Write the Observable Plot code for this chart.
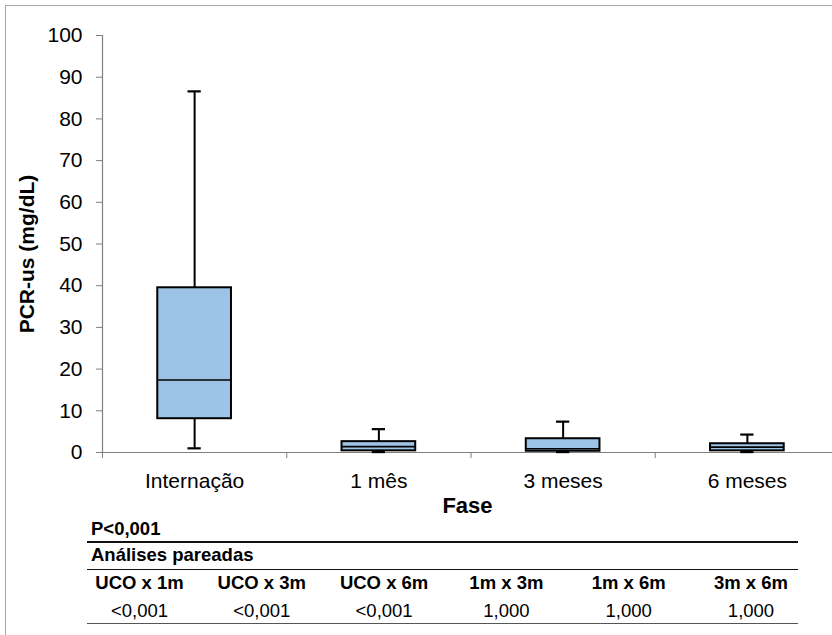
<!DOCTYPE html>
<html>
<head>
<meta charset="utf-8">
<script src="https://cdn.jsdelivr.net/npm/d3@7"></script>
<script src="https://cdn.jsdelivr.net/npm/@observablehq/plot@0.6"></script>
<style>
  html, body { margin: 0; padding: 0; background: #fff; overflow: hidden; }
  #wrap { position: relative; width: 832px; height: 635px; font-family: "Liberation Sans", Arial, sans-serif; color: #000; }
  #border { position: absolute; left: 5px; top: 5px; width: 900px; height: 700px; border: 1px solid #a6a6a6; box-sizing: border-box; }
  #chart { position: absolute; left: 0; top: 0; }
  .t { position: absolute; white-space: nowrap; line-height: 1; font-size: 18.5px; }
  .b { font-weight: bold; }
  .c { transform: translateX(-50%); }
  .hl { position: absolute; left: 87px; width: 711px; height: 1.5px; background: #111; }
</style>
</head>
<body>
<div id="wrap">
  <div id="border"></div>
  <div id="chart"></div>
  <div id="table"></div>
</div>
<script>
// ---- data ----
const categories = ["Internação", "1 mês", "3 meses", "6 meses"];
const mins    = [1.0, 0.1, 0.1, 0.1];
const q1s     = [8.1, 0.4, 0.3, 0.4];
const medians = [17.4, 1.4, 0.9, 1.3];
const q3s     = [39.5, 2.6, 3.3, 2.1];
const maxs    = [86.6, 5.6, 7.4, 4.3];
const yTicks  = [0, 10, 20, 30, 40, 50, 60, 70, 80, 90, 100];
const yTitle  = "PCR-us (mg/dL)";
const xTitle  = "Fase";
const globalP = "P<0,001";
const pairedTitle = "Análises pareadas";
const comparisons = ["UCO x 1m", "UCO x 3m", "UCO x 6m", "1m x 3m", "1m x 6m", "3m x 6m"];
const pValues = ["<0,001", "<0,001", "<0,001", "1,000", "1,000", "1,000"];

const data = categories.map((c, i) => ({
  i, c, min: mins[i], q1: q1s[i], median: medians[i], q3: q3s[i], max: maxs[i]
}));
const boundaries = categories.map((c, i) => i - 0.5).concat([categories.length - 0.5]);
const boxHalf = 0.2;
const capHalf = 0.036;
const axisGray = "#7f7f7f";
const fill = "#9dc3e6";

const plot = Plot.plot({
  width: 832,
  height: 525,
  marginTop: 35,
  marginBottom: 73,
  marginLeft: 102,
  marginRight: 0,
  style: { fontFamily: "Liberation Sans, Arial, sans-serif", color: "#000", background: "transparent", overflow: "visible" },
  x: { domain: [-0.5, categories.length - 0.5], range: [102, 839] },
  y: { domain: [0, 100] },
  marks: [
    Plot.axisY({ ticks: yTicks, tickSize: 6, tickPadding: 14, fontSize: 21, stroke: axisGray, label: null }),
    Plot.axisX({ ticks: boundaries, tickSize: 6, tickFormat: () => "", stroke: axisGray, label: null }),
    Plot.axisX({ ticks: data.map(d => d.i), tickSize: 0, tickPadding: 21, fontSize: 21, tickFormat: i => categories[i], label: null }),
    Plot.ruleY([0], { stroke: axisGray, strokeWidth: 1.2 }),
    Plot.ruleX([-0.5], { y1: 0, y2: 100, stroke: axisGray, strokeWidth: 1.2 }),
    // whiskers
    Plot.ruleX(data, { x: "i", y1: "min", y2: "q1", stroke: "#000", strokeWidth: 2 }),
    Plot.ruleX(data, { x: "i", y1: "q3", y2: "max", stroke: "#000", strokeWidth: 2 }),
    Plot.ruleY(data, { y: "max", x1: d => d.i - capHalf, x2: d => d.i + capHalf, stroke: "#000", strokeWidth: 2.2 }),
    Plot.ruleY(data, { y: "min", x1: d => d.i - capHalf, x2: d => d.i + capHalf, stroke: "#000", strokeWidth: 2.2 }),
    // boxes
    Plot.rect(data, { x1: d => d.i - boxHalf, x2: d => d.i + boxHalf, y1: "q1", y2: "q3", fill, stroke: "#000", strokeWidth: 2 }),
    Plot.ruleY(data, { y: "median", x1: d => d.i - boxHalf, x2: d => d.i + boxHalf, stroke: "#000", strokeWidth: 1.6 }),
    // titles
    Plot.text([yTitle], { frameAnchor: "left", textAnchor: "middle", rotate: -90, dx: -75, dy: 10, fontSize: 21, fontWeight: "bold" }),
    Plot.text([xTitle], { frameAnchor: "bottom", textAnchor: "middle", dy: 60, fontSize: 22, fontWeight: "bold" })
  ]
});
document.getElementById("chart").appendChild(plot);

// ---- table below the chart ----
const table = document.getElementById("table");
function addText(txt, left, baseline, bold, center) {
  const el = document.createElement("div");
  el.className = "t" + (bold ? " b" : "") + (center ? " c" : "");
  el.textContent = txt;
  el.style.left = left + "px";
  el.style.top = (baseline - 15.7) + "px";
  table.appendChild(el);
}
function addLine(top, color) {
  const el = document.createElement("div");
  el.className = "hl";
  el.style.top = top + "px";
  if (color) el.style.background = color;
  table.appendChild(el);
}
addText(globalP, 91, 535.7, true, false);
addLine(541);
addText(pairedTitle, 91, 562, true, false);
addLine(568.5);
const colX = comparisons.map((c, k) => 139.5 + k * 122.3);
comparisons.forEach((c, k) => addText(c, colX[k], 589.3, true, true));
pValues.forEach((v, k) => addText(v, colX[k], 617.7, false, true));
addLine(622.5, "#555");
</script>
</body>
</html>
